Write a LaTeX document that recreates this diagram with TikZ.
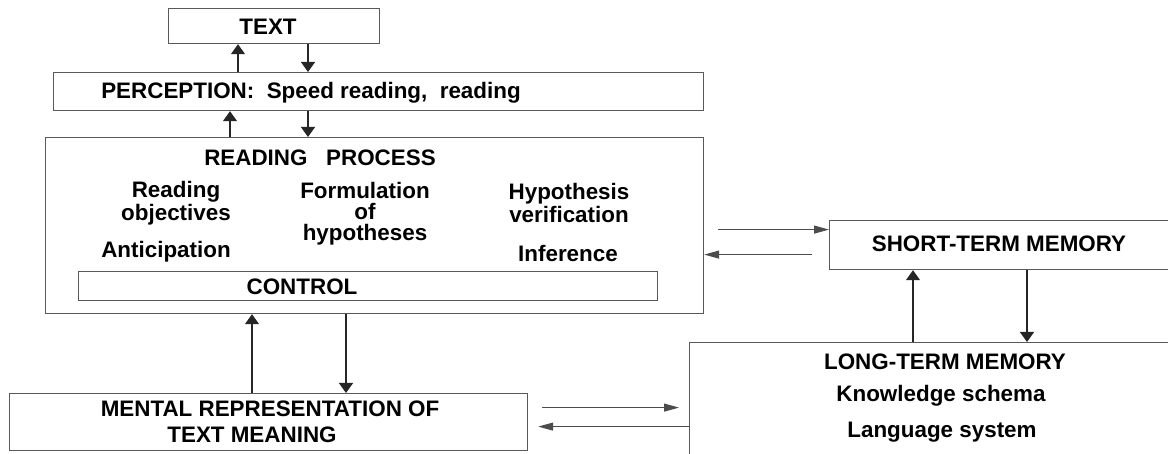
\documentclass[tikz,border=0pt]{standalone}
\usepackage{fontspec}
\setmainfont{Liberation Sans}
\usetikzlibrary{arrows.meta,positioning}

\begin{document}
\begin{tikzpicture}[x=1pt,y=-1pt,
        box/.style={draw=black!65,line width=1.2pt,inner sep=0pt,anchor=north west},
        lbl/.style={inner sep=0pt,align=center,font=\fontsize{22.4}{23}\selectfont\bfseries},
        vup/.style={-{Triangle[width=14pt,length=10pt]},line width=1.2pt,draw=black!85},
        hor/.style={-{Triangle[width=8pt,length=15pt]},line width=1pt,draw=black!70}]
        \useasboundingbox (0,0) rectangle (1168,454);
        \clip (0,0) rectangle (1168,454);

        % boxes
        \node[box,minimum width=211pt,minimum height=35pt] at (168,8) (text) {};
        \node[box,minimum width=650pt,minimum height=38pt] at (53,72) (perc) {};
        \node[box,minimum width=658pt,minimum height=176pt] at (45,137) (read) {};
        \node[box,minimum width=579pt,minimum height=29pt] at (78,271) (ctrl) {};
        \node[box,minimum width=361pt,minimum height=49pt] at (829,220) (short) {};
        \node[box,minimum width=501pt,minimum height=128pt] at (689,342) (long) {};
        \node[box,minimum width=518pt,minimum height=57pt] at (9,393) (mental) {};

        % labels
        \node[lbl] at (268,27) (ttext) {TEXT};
        \node[lbl] at (311,93) (tperc) {PERCEPTION:\ \ Speed reading,\ \ reading};
        \node[lbl] at (320,158) (tread) {READING\ \ \ PROCESS};
        \node[lbl] at (176,203) (tobj) {Reading\\objectives};
        \node[lbl,font=\fontsize{22.4}{21}\selectfont\bfseries] at (365,214) (thyp) {Formulation\\of\\hypotheses};
        \node[lbl] at (569,203) (tver) {Hypothesis\\verification};
        \node[lbl] at (166,252) (tant) {Anticipation};
        \node[lbl] at (568,253) (tinf) {Inference};
        \node[lbl] at (302,287) (tctrl) {CONTROL};
        \node[lbl] at (999,244) (tshort) {SHORT-TERM MEMORY};
        \node[lbl] at (945,362) (tlong) {LONG-TERM MEMORY};
        \node[lbl] at (941,396) (tknow) {Knowledge schema};
        \node[lbl] at (942,432) (tlang) {Language system};
        \node[lbl,font=\fontsize{22.4}{26}\selectfont\bfseries] at (270,422) (tment) {MENTAL REPRESENTATION OF\\TEXT MEANING\hspace*{36pt}};

        % vertical links
        \draw[vup] ([xshift=185pt]perc.north west) -- ([xshift=70pt]text.south west);
        \draw[vup] ([xshift=140pt]text.south west) -- ([xshift=255pt]perc.north west);
        \draw[vup] ([xshift=185pt]read.north west) -- ([xshift=177pt]perc.south west);
        \draw[vup] ([xshift=255pt]perc.south west) -- ([xshift=263pt]read.north west);
        \draw[vup] ([xshift=243pt]mental.north west) -- ([xshift=207pt]read.south west);
        \draw[vup] ([xshift=301pt]read.south west) -- ([xshift=337pt]mental.north west);
        \draw[vup] ([xshift=224pt]long.north west) -- ([xshift=84pt]short.south west);
        \draw[vup] ([xshift=198pt]short.south west) -- ([xshift=338pt]long.north west);

        % horizontal links
        \draw[hor] ([xshift=14pt,yshift=-4pt]read.east) -- ([yshift=15.5pt]short.west);
        \draw[hor] ([xshift=-17pt,yshift=-9.5pt]short.west) -- ([yshift=-29pt]read.east);
        \draw[hor] ([xshift=14pt,yshift=14.5pt]mental.east) -- ([xshift=-10pt,yshift=-1pt]long.west);
        \draw[hor] ([yshift=-20pt]long.west) -- ([xshift=10pt,yshift=-4.5pt]mental.east);
    \end{tikzpicture}
\end{document}
